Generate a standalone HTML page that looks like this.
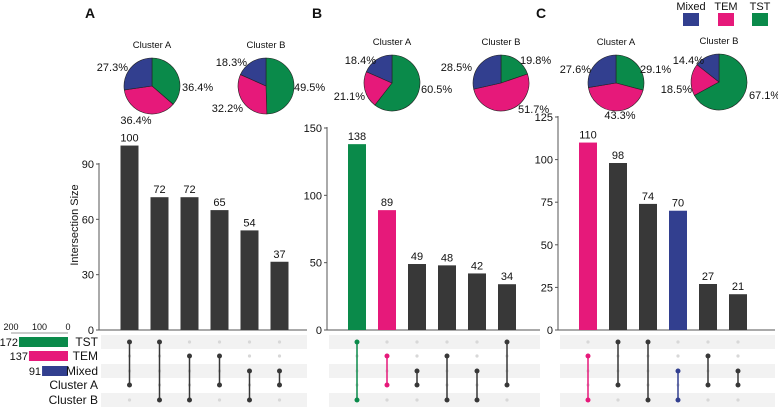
<!DOCTYPE html>
<html><head><meta charset="utf-8"><style>
body{margin:0;background:#fff}
svg{display:block;font-family:"Liberation Sans",Arial,sans-serif}
</style></head><body>
<svg id="c" width="778" height="411" viewBox="0 0 778 411"></svg>
<script>
const NS="http://www.w3.org/2000/svg";
const svg=document.getElementById('c');
const GREEN="#0a8a4a",PINK="#e6197a",BLUE="#323f8f",DARK="#383838";
// data
const setNames=["TST","TEM","Mixed","Cluster A","Cluster B"];
const setSizes=[172,137,91];
const aValues=[100,72,72,65,54,37];
const bValues=[138,89,49,48,42,34];
const cValues=[110,98,74,70,27,21];
const aSets=[[0,3],[0,4],[1,4],[1,3],[2,4],[2,3]];
const bSets=[[0,4],[1,3],[2,3],[1,4],[2,4],[0,3]];
const cSets=[[1,4],[0,3],[0,4],[2,4],[1,3],[2,3]];
const aColors=[DARK,DARK,DARK,DARK,DARK,DARK];
const bColors=[GREEN,PINK,DARK,DARK,DARK,DARK];
const cColors=[PINK,DARK,DARK,BLUE,DARK,DARK];
const aTicks=[0,30,60,90];
const bTicks=[0,50,100,150];
const cTicks=[0,25,50,75,100,125];
const setTicks=[200,100,0];
// pies: [TST,TEM,Mixed]
const pieAA=[36.4,36.4,27.3],pieAB=[49.5,32.2,18.3];
const pieBA=[60.5,21.1,18.4],pieBB=[19.8,51.7,28.5];
const pieCA=[29.1,43.3,27.6],pieCB=[67.1,18.5,14.4];

function el(tag,attrs,parent){const e=document.createElementNS(NS,tag);for(const k in attrs)e.setAttribute(k,attrs[k]);(parent||svg).appendChild(e);return e;}
function txt(x,y,s,size,anchor,parent,weight){const t=el('text',{x:x,y:y,'font-size':size,'text-anchor':anchor||'middle',fill:'#111'},parent);if(weight)t.setAttribute('font-weight',weight);t.textContent=s;return t;}

const rowY=[342,356,371,385,400];
const panels=[
 {name:'a',letter:'A',lx:90,axisX:99,endX:307,x0:129.5,yMax:90,yAt:164,vals:aValues,sets:aSets,cols:aColors,ticks:aTicks,
  pies:[{c:[152,86],v:pieAA,t:'Cluster A',lab:[[182,91,'start'],[136,124,'middle'],[128,71,'end']]},{c:[266,86],v:pieAB,t:'Cluster B',lab:[[294,91,'start'],[243,112,'end'],[247,66,'end']]}]},
 {name:'b',letter:'B',lx:317,axisX:327,endX:540,x0:357,yMax:150,yAt:128,vals:bValues,sets:bSets,cols:bColors,ticks:bTicks,
  pies:[{c:[392,83],v:pieBA,t:'Cluster A',lab:[[421,93,'start'],[365,100,'end'],[376,64,'end']]},{c:[501,83],v:pieBB,t:'Cluster B',lab:[[520,64,'start'],[518,113,'start'],[472,71,'end']]}]},
 {name:'c',letter:'C',lx:541,axisX:558,endX:775,x0:588,yMax:125,yAt:117,vals:cValues,sets:cSets,cols:cColors,ticks:cTicks,
  pies:[{c:[616,83],v:pieCA,t:'Cluster A',lab:[[640,73,'start'],[620,119,'middle'],[591,73,'end']]},{c:[719,82],v:pieCB,t:'Cluster B',lab:[[749,99,'start'],[692,93,'end'],[704,64,'end']]}]}
];
const step=30,zeroY=330,barW=18,R=28;

panels.forEach(p=>{
  const g=el('g',{});
  
  
  const L=txt(p.lx,18,p.letter,14,'middle',g,'bold');
  
  
  const sc=(zeroY-p.yAt)/p.yMax;
  const y=v=>zeroY-v*sc;
  const xAt=i=>p.x0+i*step;
  [0,2,4].forEach(r=>{const b=el('rect',{x:p.axisX+2,y:rowY[r]-7,width:p.endX-p.axisX-2,height:14,fill:'#f2f2f2'},g);
    });
  const ax=el('line',{x1:p.axisX,y1:y(p.ticks[p.ticks.length-1])-1,x2:p.axisX,y2:zeroY,stroke:'#555','stroke-width':1},g);
  
  const bx=el('line',{x1:p.axisX,y1:zeroY,x2:p.endX,y2:zeroY,stroke:'#555','stroke-width':1},g);
  
  p.ticks.forEach(t=>{
    el('line',{x1:p.axisX-3,y1:y(t),x2:p.axisX,y2:y(t),stroke:'#555'},g);
    const tl=txt(p.axisX-5,y(t)+4,String(t),11,'end',g);
    
  });
  p.vals.forEach((v,i)=>{
    const b=el('rect',{x:xAt(i)-barW/2,y:y(v),width:barW,height:zeroY-y(v),fill:p.cols[i]},g);
    
    const l=txt(xAt(i),y(v)-4,String(v),11,'middle',g);
    
    for(let r=0;r<5;r++){const d=el('circle',{cx:xAt(i),cy:rowY[r],r:1.6,fill:'#d8d8d8'},g);
      }
    const s=p.sets[i];const c=p.cols[i];
    const ln=el('line',{x1:xAt(i),y1:rowY[s[0]],x2:xAt(i),y2:rowY[s[1]],stroke:c,'stroke-width':1.5},g);
    
    s.forEach(r=>{const d=el('circle',{cx:xAt(i),cy:rowY[r],r:2.5,fill:c},g);
      });
  });
  p.pies.forEach((pie,pi)=>{
    const pg=el('g',{},g);
    
    
    const [cx,cy]=pie.c;const tot=pie.v.reduce((a,b)=>a+b,0);
    let a0=0;const cols=[GREEN,PINK,BLUE];
    pie.v.forEach((v,k)=>{
      const a1=a0+v/tot*2*Math.PI;
      const x0=cx+R*Math.sin(a0),y0=cy-R*Math.cos(a0),x1=cx+R*Math.sin(a1),y1=cy-R*Math.cos(a1);
      const s=el('path',{d:`M${cx},${cy}L${x0},${y0}A${R},${R} 0 ${a1-a0>Math.PI?1:0} 1 ${x1},${y1}Z`,fill:cols[k],stroke:'#222','stroke-width':0.6},pg);
      
      const lb=pie.lab[k];const t=txt(lb[0],lb[1],v.toFixed(1)+'%',11,lb[2],pg);
      
      a0=a1;
    });
    const tt=txt(cx,cy-R-10,pie.t,9.5,'middle',pg);
    
  });
});
const yt=txt(0,0,'Intersection Size',11,'middle');
yt.setAttribute('transform','translate(78,225) rotate(-90)');

const ssx=v=>68-v*0.285;
setTicks.forEach(t=>{const l=txt(ssx(t),330,String(t),9,'middle');});
el('line',{x1:ssx(200),y1:333,x2:68,y2:333,stroke:'#777',"stroke-width":0.8});
const ssCols=[GREEN,PINK,BLUE];
setSizes.forEach((v,i)=>{
  const b=el('rect',{x:ssx(v),y:rowY[i]-5,width:68-ssx(v),height:10,fill:ssCols[i]});
  
  const l=txt(ssx(v)-1,rowY[i]+4,String(v),11,'end');
  
});
setNames.forEach((n,i)=>{const l=txt(98,rowY[i]+4,n,12,'end');});
[['Mixed',BLUE,691],['TEM',PINK,726],['TST',GREEN,760]].forEach(d=>{
  const g=el('g',{});
  txt(d[2],10,d[0],11,'middle',g);
  el('rect',{x:d[2]-8,y:13,width:16,height:13,fill:d[1]},g);
});
</script>
</body></html>
